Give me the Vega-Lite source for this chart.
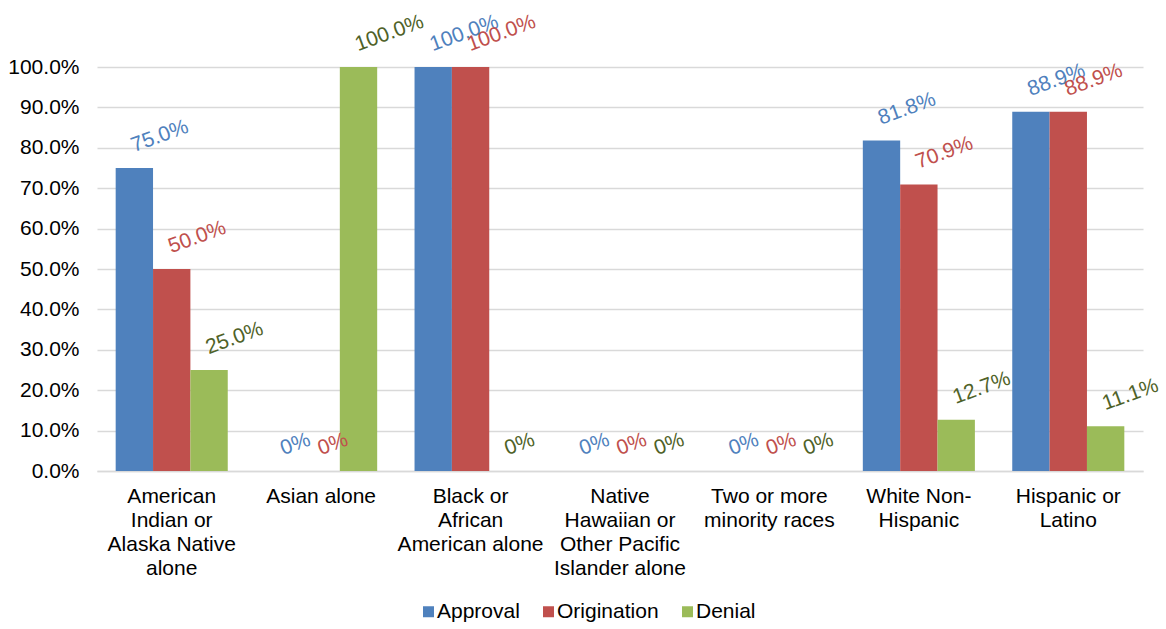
{
  "$schema": "https://vega.github.io/schema/vega-lite/v6.json",
  "width": 1046,
  "height": 404,
  "autosize": "none",
  "padding": {"left": 97, "top": 67, "right": 23, "bottom": 158},
  "background": "white",
  "config": {"font": "Liberation Sans", "view": {"stroke": null}},
  "data": {
    "values": [
      {"group": "American Indian or Alaska Native alone", "series": "Approval", "value": 0.75},
      {"group": "American Indian or Alaska Native alone", "series": "Origination", "value": 0.5},
      {"group": "American Indian or Alaska Native alone", "series": "Denial", "value": 0.25},
      {"group": "Asian alone", "series": "Approval", "value": 0},
      {"group": "Asian alone", "series": "Origination", "value": 0},
      {"group": "Asian alone", "series": "Denial", "value": 1.0},
      {"group": "Black or African American alone", "series": "Approval", "value": 1.0},
      {"group": "Black or African American alone", "series": "Origination", "value": 1.0},
      {"group": "Black or African American alone", "series": "Denial", "value": 0},
      {"group": "Native Hawaiian or Other Pacific Islander alone", "series": "Approval", "value": 0},
      {"group": "Native Hawaiian or Other Pacific Islander alone", "series": "Origination", "value": 0},
      {"group": "Native Hawaiian or Other Pacific Islander alone", "series": "Denial", "value": 0},
      {"group": "Two or more minority races", "series": "Approval", "value": 0},
      {"group": "Two or more minority races", "series": "Origination", "value": 0},
      {"group": "Two or more minority races", "series": "Denial", "value": 0},
      {"group": "White Non-Hispanic", "series": "Approval", "value": 0.818},
      {"group": "White Non-Hispanic", "series": "Origination", "value": 0.709},
      {"group": "White Non-Hispanic", "series": "Denial", "value": 0.127},
      {"group": "Hispanic or Latino", "series": "Approval", "value": 0.889},
      {"group": "Hispanic or Latino", "series": "Origination", "value": 0.889},
      {"group": "Hispanic or Latino", "series": "Denial", "value": 0.111}
    ]
  },
  "transform": [
    {"calculate": "datum.value == 0 ? '0%' : format(datum.value, '.1%')", "as": "label"}
  ],
  "encoding": {
    "x": {
      "field": "group",
      "type": "nominal",
      "sort": null,
      "scale": {"paddingInner": 0.25, "paddingOuter": 0.125},
      "axis": {
        "title": null,
        "labelAngle": 0,
        "labelFontSize": 21,
        "labelLineHeight": 24,
        "labelPadding": 14,
        "labelBaseline": "top",
        "labelColor": "#000000",
        "labelOverlap": false,
        "labelLimit": 0,
        "ticks": false,
        "domainColor": "#d9d9d9",
        "domainWidth": 1.5,
        "labelExpr": "{'American Indian or Alaska Native alone': ['American', 'Indian or', 'Alaska Native', 'alone'], 'Asian alone': ['Asian alone'], 'Black or African American alone': ['Black or', 'African', 'American alone'], 'Native Hawaiian or Other Pacific Islander alone': ['Native', 'Hawaiian or', 'Other Pacific', 'Islander alone'], 'Two or more minority races': ['Two or more', 'minority races'], 'White Non-Hispanic': ['White Non-', 'Hispanic'], 'Hispanic or Latino': ['Hispanic or', 'Latino']}[datum.value]"
      }
    },
    "xOffset": {
      "field": "series",
      "type": "nominal",
      "sort": ["Approval", "Origination", "Denial"],
      "scale": {"paddingInner": 0, "paddingOuter": 0}
    },
    "y": {
      "field": "value",
      "type": "quantitative",
      "scale": {"domain": [0, 1], "nice": false},
      "axis": {
        "title": null,
        "format": ".1%",
        "values": [0, 0.1, 0.2, 0.3, 0.4, 0.5, 0.6, 0.7, 0.8, 0.9, 1.0],
        "labelFontSize": 21,
        "labelPadding": 18,
        "labelColor": "#000000",
        "domain": false,
        "ticks": false,
        "grid": true,
        "gridColor": "#d9d9d9",
        "gridWidth": 1.5
      }
    }
  },
  "layer": [
    {
      "mark": {"type": "bar"},
      "encoding": {
        "color": {
          "field": "series",
          "type": "nominal",
          "scale": {"domain": ["Approval", "Origination", "Denial"], "range": ["#4F81BD", "#C0504D", "#9BBB59"]},
          "legend": {
            "title": null,
            "orient": "none",
            "direction": "horizontal",
            "legendX": 321,
            "legendY": 534,
            "symbolType": "square",
            "symbolSize": 121,
            "symbolStrokeWidth": 0,
            "labelFontSize": 21,
            "labelColor": "#000000",
            "labelOffset": -2,
            "columnPadding": 18
          }
        }
      }
    },
    {
      "mark": {"type": "text", "angle": -20, "align": "left", "baseline": "alphabetic", "dx": 5, "dy": -15, "fontSize": 21},
      "encoding": {
        "text": {"field": "label"},
        "color": {
          "field": "series",
          "type": "nominal",
          "scale": {"domain": ["Approval", "Origination", "Denial"], "range": ["#4F81BD", "#C0504D", "#4F6228"]},
          "legend": null
        }
      }
    }
  ],
  "resolve": {"scale": {"color": "independent"}}
}
